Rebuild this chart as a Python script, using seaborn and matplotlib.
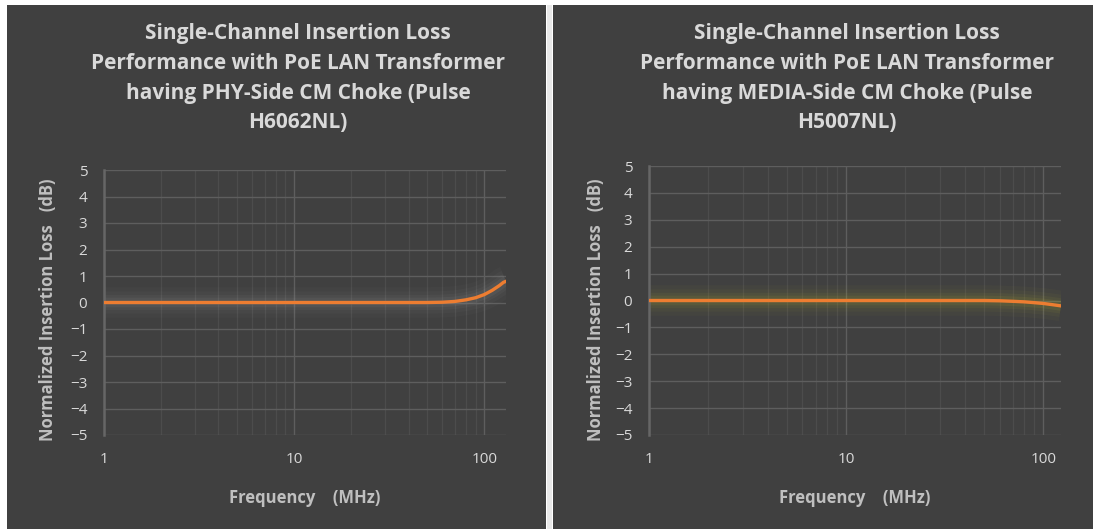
import numpy as np
import pandas as pd
import seaborn as sns
import matplotlib.pyplot as plt
from matplotlib.patches import Rectangle
from matplotlib.ticker import LogLocator, FixedLocator, FuncFormatter

# --- data ---
freq_phy = [1, 2, 5, 10, 20, 30, 40, 50, 60, 70, 80, 90, 100, 110, 120, 126, 130]
loss_phy = [0, 0, 0, 0, 0, 0, 0.0, 0.0, 0.01, 0.04, 0.1, 0.18, 0.3, 0.46, 0.64, 0.76, 0.8]

freq_media = [1, 2, 5, 10, 20, 30, 40, 50, 60, 70, 80, 90, 100, 110, 123]
loss_media = [0, 0, 0, 0, 0, 0, 0, 0, -0.01, -0.03, -0.05, -0.08, -0.11, -0.15, -0.2]

titles = [
    "Single-Channel Insertion Loss\nPerformance with PoE LAN Transformer\nhaving PHY-Side CM Choke (Pulse\nH6062NL)",
    "Single-Channel Insertion Loss\nPerformance with PoE LAN Transformer\nhaving MEDIA-Side CM Choke (Pulse\nH5007NL)",
]
y_ticks = list(range(-5, 6))
x_label = "Frequency    (MHz)"
y_label = "Normalized Insertion Loss   (dB)"

sns.set_style("dark")
plt.rcParams['font.family'] = ['Open Sans', 'DejaVu Sans']

BG = '#404040'
W, H = 1093, 529
fig = plt.figure(figsize=(W / 100, H / 100), dpi=100, facecolor='white')

# dark panels with white border / divider
fig.add_artist(Rectangle((7 / W, 0), (546 - 7) / W, 1 - 5 / H, transform=fig.transFigure,
                         facecolor=BG, edgecolor='none', zorder=0))
fig.add_artist(Rectangle((553 / W, 0), (W - 553) / W, 1 - 5 / H, transform=fig.transFigure,
                         facecolor=BG, edgecolor='none', zorder=0))
fig.add_artist(Rectangle((547 / W, 0), 5 / W, 1 - 5 / H, transform=fig.transFigure,
                         facecolor='#e8e8e8', edgecolor='none', zorder=0))

panels = [
    dict(rect=[104 / W, 1 - 435 / H, 402 / W, 265 / H], xmax=130, freq=freq_phy, loss=loss_phy,
         glow='#9a9a9a', title_x=298 / W, ylab_x=48 / W),
    dict(rect=[649 / W, 1 - 435 / H, 412 / W, 269 / H], xmax=123, freq=freq_media, loss=loss_media,
         glow='#b8b030', title_x=847 / W, ylab_x=596 / W),
]

for p, title in zip(panels, titles):
    ax = fig.add_axes(p['rect'])
    ax.set_facecolor(BG)
    df = pd.DataFrame({'freq': p['freq'], 'loss': p['loss']})

    # soft glow behind the line
    for lw, a in [(22, 0.04), (16, 0.05), (11, 0.07), (7, 0.10)]:
        sns.lineplot(data=df, x='freq', y='loss', ax=ax, color=p['glow'], linewidth=lw,
                     alpha=a, solid_capstyle='butt', zorder=2)
    sns.lineplot(data=df, x='freq', y='loss', ax=ax, color='#ed7d31', linewidth=2.4,
                 zorder=3, solid_capstyle='round')

    ax.set_xscale('log')
    ax.set_xlim(1, p['xmax'])
    ax.set_ylim(-5, 5)
    ax.set_yticks(y_ticks)
    ax.xaxis.set_major_locator(FixedLocator([1, 10, 100]))
    ax.xaxis.set_major_formatter(FuncFormatter(lambda v, _: f"{v:g}"))
    ax.xaxis.set_minor_locator(LogLocator(base=10, subs=np.arange(2, 10)))
    ax.xaxis.set_minor_formatter(FuncFormatter(lambda v, _: ""))

    ax.grid(True, which='major', color='#5e5e5e', linewidth=1.0)
    ax.grid(True, which='minor', axis='x', color='#4c4c4c', linewidth=0.9)

    for s in ['top', 'right', 'bottom']:
        ax.spines[s].set_visible(False)
    ax.spines['left'].set_color('#666666')
    ax.spines['left'].set_linewidth(1.8)

    ax.tick_params(axis='both', which='both', length=0, colors='#d9d9d9', labelsize=11)
    ax.tick_params(axis='x', pad=12)
    ax.tick_params(axis='y', pad=12)
    ax.set_xlabel('')
    ax.set_ylabel('')

    fig.text(p['title_x'], 1 - 23 / H, title, ha='center', va='top', fontsize=15,
             fontweight='bold', color='#d9d9d9', linespacing=1.55)
    fig.text(p['rect'][0] + p['rect'][2] / 2, 1 - 498 / H, x_label, ha='center', va='center',
             fontsize=12, fontweight='bold', color='#bfbfbf')
    fig.text(p['ylab_x'], 1 - 310 / H, y_label, ha='center', va='center',
             rotation=90, fontsize=12, fontweight='bold', color='#bfbfbf')

fig.savefig('out.png', dpi=100, facecolor=fig.get_facecolor())
